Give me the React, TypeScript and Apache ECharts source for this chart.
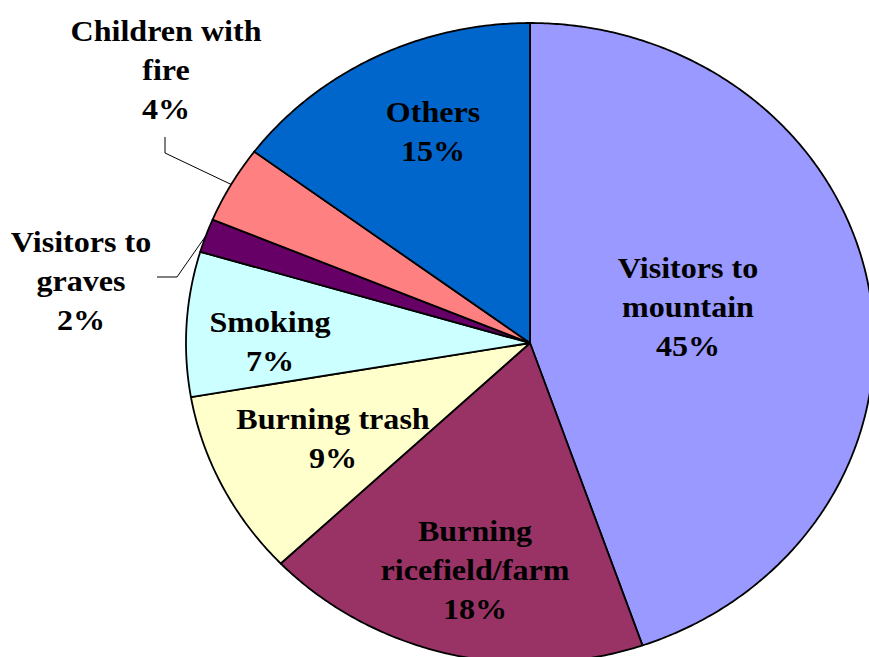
import React, { useEffect, useRef } from "react";
import * as echarts from "echarts";

const categories = [
  "Visitors to\nmountain",
  "Burning\nricefield/farm",
  "Burning trash",
  "Smoking",
  "Visitors to\ngraves",
  "Children with\nfire",
  "Others",
];
const values = [44.7, 18.2, 9.4, 7.3, 1.7, 3.9, 14.8];
const colors = ["#9999FF", "#993366", "#FFFFCC", "#CCFFFF", "#660066", "#FF8080", "#0066CC"];

// layout (not data): label centres and leader bend points
const labelAt: number[][] = [
  [688, 307],
  [475, 570],
  [333, 438],
  [270, 341],
  [81, 281],
  [166, 70],
  [433, 131],
];
const leaderBends: (number[][] | null)[] = [
  null,
  null,
  null,
  null,
  [[177, 277], [157, 277]],
  [[165, 153], [165, 137]],
  null,
];

const CX = 530;
const CY = 343;
const RX = 344;
const RY = 320;

export default function App() {
  const ref = useRef<HTMLDivElement>(null);
  useEffect(() => {
    if (!ref.current) return;
    const chart = echarts.init(ref.current, null, { renderer: "svg" });
    const total = values.reduce((a, b) => a + b, 0);
    const font = {
      fontFamily: "'Liberation Serif', 'Times New Roman', serif",
      fontWeight: "bold",
      fontSize: 30,
    };
    chart.setOption({
      animation: false,
      backgroundColor: "#ffffff",
      series: [
        {
          type: "custom",
          coordinateSystem: "none",
          data: values.map((v, i) => [i, v]),
          renderItem: (params: any, api: any) => {
            const i = params.dataIndex;
            const v = api.value(1) as number;
            let before = 0;
            for (let k = 0; k < i; k++) before += values[k];
            const a0 = (before / total) * Math.PI * 2;
            const a1 = ((before + v) / total) * Math.PI * 2;
            const n = Math.max(2, Math.ceil((a1 - a0) / (Math.PI / 360)));
            const pts: number[][] = [[CX, CY]];
            for (let k = 0; k <= n; k++) {
              const t = a0 + ((a1 - a0) * k) / n;
              pts.push([CX + RX * Math.sin(t), CY - RY * Math.cos(t)]);
            }
            const children: any[] = [
              {
                type: "polygon",
                shape: { points: pts },
                style: { fill: colors[i], stroke: "#000000", lineWidth: 1.8, lineJoin: "round" },
                z2: 1,
              },
              {
                type: "text",
                x: labelAt[i][0],
                y: labelAt[i][1],
                scaleX: 1.07,
                z2: 10,
                style: {
                  text: `${categories[i]}\n${Math.round(v)}%`,
                  fill: "#000000",
                  align: "center",
                  verticalAlign: "middle",
                  lineHeight: 39,
                  ...font,
                },
              },
            ];
            const bends = leaderBends[i];
            if (bends) {
              const m = (a0 + a1) / 2;
              const start = [CX + RX * Math.sin(m), CY - RY * Math.cos(m)];
              children.push({
                type: "polyline",
                shape: { points: [start, ...bends] },
                style: { stroke: "#000000", lineWidth: 1, fill: null },
                z2: 5,
              });
            }
            return { type: "group", children };
          },
        },
      ],
    });
    return () => chart.dispose();
  }, []);
  return (
    <div
      ref={ref}
      style={{ position: "fixed", left: 0, top: 0, width: 869, height: 657, background: "#fff" }}
    />
  );
}
